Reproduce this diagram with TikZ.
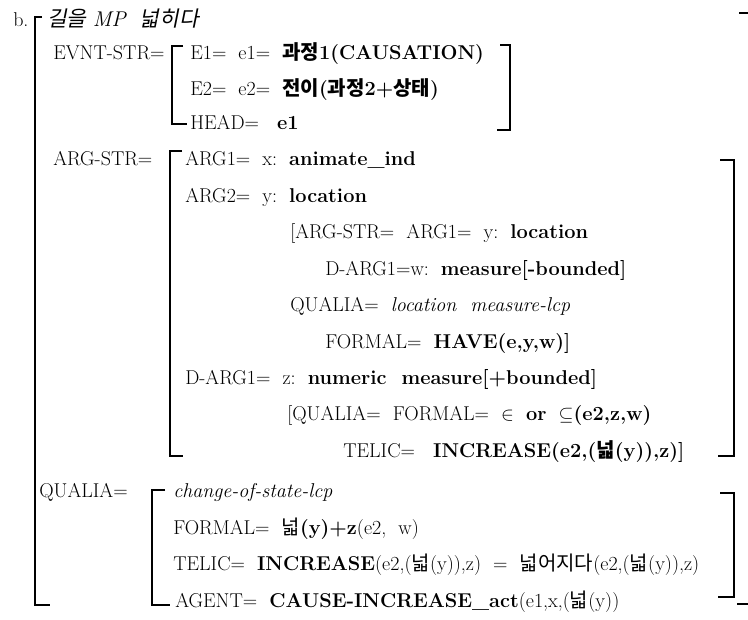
\documentclass[tikz,border=0pt]{standalone}
\usepackage{fontspec}
\newfontfamily\kr{Noto Sans CJK KR}
\newfontfamily\krit[FakeSlant=0.2]{Noto Sans CJK KR}
\begin{document}
\begin{tikzpicture}[x=0.75pt,y=-0.75pt,
  txt/.style={anchor=base west, inner sep=0pt, font=\fontsize{15}{18}\selectfont},
  ttl/.style={anchor=base west, inner sep=0pt, font=\fontsize{16}{19}\selectfont},
  brk/.style={line width=0.9pt}]
\useasboundingbox (0,0) rectangle (748,619);

% heading
\node[txt] (lbl) at (13,26) {b.};
\node[ttl] (title) at (47,26) {{\krit 길을} \textit{MP}\ \ {\krit 넓히다}};

% event structure
\node[txt] (evnt) at (53,59) {EVNT-STR=};
\node[txt] (e1) at (190,59) {E1=\ \ e1=\ \ \textbf{{\kr 과정}1(CAUSATION)}};
\node[txt] (e2) at (190,95) {E2=\ \ e2=\ \ \textbf{{\kr 전이}({\kr 과정}2+{\kr 상태})}};
\node[txt] (head) at (190,129) {HEAD=\ \ \ \textbf{e1}};

% argument structure
\node[txt] (args) at (53,165) {ARG-STR=};
\node[txt] (a1) at (185,165) {ARG1=\ \ x:\ \ \textbf{animate\_ind}};
\node[txt] (a2) at (185,202) {ARG2=\ \ y:\ \ \textbf{location}};
\node[txt] (a3) at (290,238) {[ARG-STR=\ \ ARG1=\ \ y:\ \ \textbf{location}};
\node[txt] (a4) at (325,275) {D-ARG1=w:\ \ \textbf{measure[-bounded]}};
\node[txt] (a5) at (290,311) {QUALIA=\ \ \textit{location\ \ measure-lcp}};
\node[txt] (a6) at (325,348) {FORMAL=\ \ \textbf{HAVE(e,y,w)]}};
\node[txt] (a7) at (185,384) {D-ARG1=\ \ z:\ \ \textbf{numeric\ \ measure[+bounded]}};
\node[txt] (a8) at (287,420) {[QUALIA=\ \ FORMAL=\ \ $\in$\ \ \textbf{or}\ \ $\subseteq$\textbf{(e2,z,w)}};
\node[txt] (a9) at (343,457) {TELIC=\ \ \ \textbf{INCREASE(e2,({\kr 넓}(y)),z)]}};

% qualia structure
\node[txt] (qual) at (39,497) {QUALIA=};
\node[txt] (q1) at (173,497) {\textit{change-of-state-lcp}};
\node[txt] (q2) at (173,534) {FORMAL=\ \ {\kr 넓}\textbf{(y)+z}(e2,\ \ w)};
\node[txt] (q3) at (173,570) {TELIC=\ \ \textbf{INCREASE}(e2,({\kr 넓}(y)),z)\ \ =\ \ {\kr 넓어지다}(e2,({\kr 넓}(y)),z)};
\node[txt] (q4) at (175,607) {AGENT=\ \ \textbf{CAUSE-INCREASE\_act}(e1,x,({\kr 넓}(y))};

% brackets
\draw[brk] (42,17) -- (35,17) -- (35,605) -- (50,605);
\draw[brk] (739,13) -- (748,13);
\draw[brk] (737,604) -- (748,604);
\draw[brk] (183,46) -- (172,46) -- (172,124) -- (187,124);
\draw[brk] (500,45) -- (510,45) -- (510,130) -- (497,130);
\draw[brk] (182,151) -- (170,151) -- (170,456) -- (183,456);
\draw[brk] (720,160) -- (734,160) -- (734,456) -- (718,456);
\draw[brk] (165,490) -- (152,490) -- (152,605) -- (170,605);
\draw[brk] (720,493) -- (734,493) -- (734,597) -- (718,597);
\end{tikzpicture}
\end{document}
